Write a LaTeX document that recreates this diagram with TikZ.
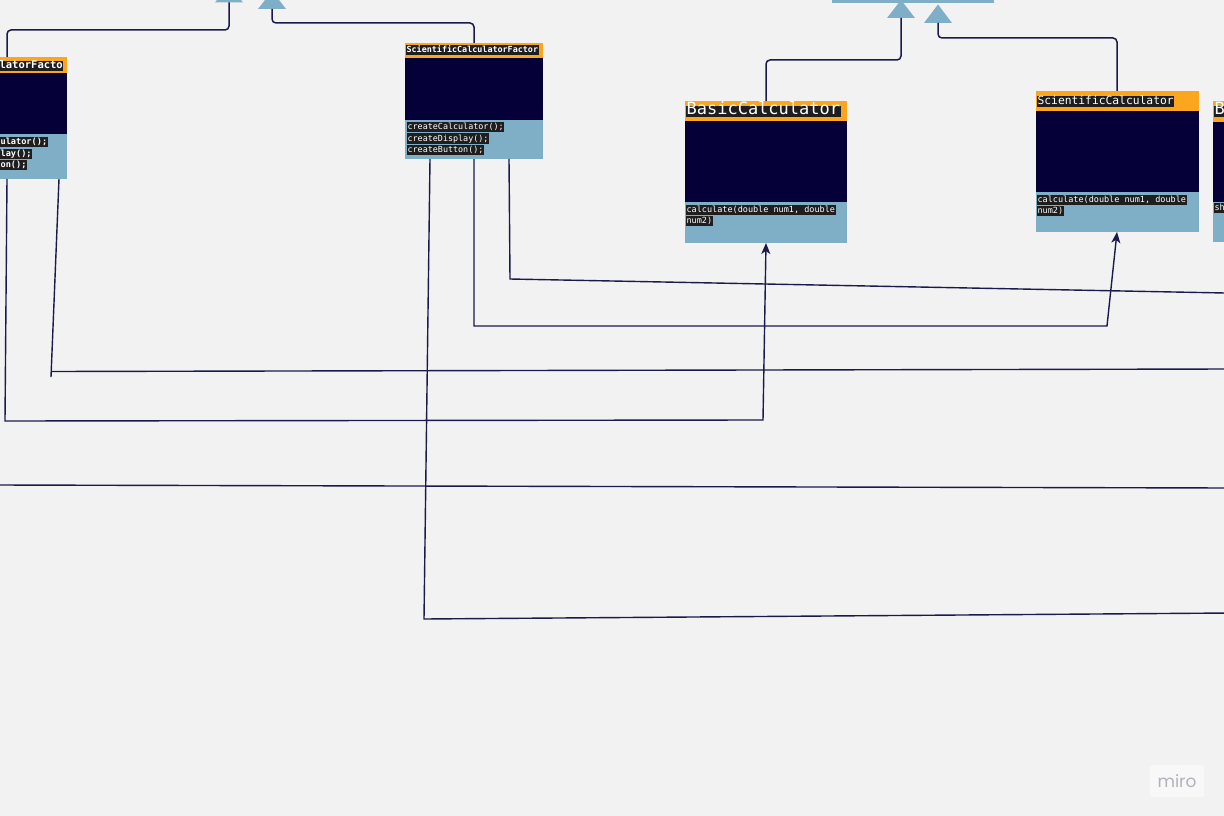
\documentclass[tikz,border=0pt]{standalone}
\usepackage{fontspec}
\newfontfamily\mono{DejaVu Sans Mono}
\newfontfamily\logofont{Poppins}
\usetikzlibrary{calc,arrows.meta}
\definecolor{bgC}{HTML}{F2F2F2}
\definecolor{orangeC}{HTML}{FCA51E}
\definecolor{navyC}{HTML}{050038}
\definecolor{blueC}{HTML}{7FAFC6}
\definecolor{labC}{HTML}{1E1E1E}
\definecolor{lineC}{HTML}{1A1A4C}
\definecolor{logoC}{HTML}{B2B2BC}
\tikzset{
  part/.style={rectangle, inner sep=0pt, outer sep=0pt, anchor=north west, draw=none},
  hdr/.style={part, fill=orangeC},
  bodyp/.style={part, fill=navyC},
  meth/.style={part, fill=blueC},
  lab/.style={fill=labC, text=white, inner xsep=0.6pt, inner ysep=0.3pt, outer sep=0pt, anchor=west, text height=0.76em, text depth=0.22em},
  conn/.style={draw=lineC, line width=1.4pt},
  upconn/.style={draw=lineC, line width=1.5pt, rounded corners=4pt},
  tip/.style={-{Stealth[length=11pt,width=9pt,inset=3pt]}},
  tri/.style={fill=blueC, draw=none},
}
\begin{document}
\begin{tikzpicture}[x=1pt,y=-1pt]
\useasboundingbox (0,0) rectangle (1224,816);
\fill[bgC] (0,0) rectangle (1224,816);
\clip (0,0) rectangle (1224,816);

% ---- inheritance targets at top ----
\fill[tri] (215,2.5) -- (243,2.5) -- (229,-15.5) -- cycle;
\fill[tri] (258,9) -- (286,9) -- (272,-9) -- cycle;
\node[part, fill=blueC, minimum width=162pt, minimum height=8pt, anchor=south west] (topbar) at (832,3) {};
\fill[tri] (887,18) -- (915,18) -- (901,0) -- cycle;
\fill[tri] (924,23) -- (952,23) -- (938,4.5) -- cycle;
\coordinate (t1) at (229,2.5);
\coordinate (t2) at (272,9);
\coordinate (t3) at (901,18);
\coordinate (t4) at (938,23);

% ---- left factory (cut off) ----
\node[hdr, minimum width=72pt, minimum height=16pt] (lfH) at (-5,57) {};
\node[bodyp, minimum width=72pt, minimum height=61pt] (lfB) at (-5,73) {};
\node[meth, minimum width=72pt, minimum height=45pt] (lfM) at (-5,134) {};
\node[lab, font=\mono\bfseries\fontsize{10.5}{12}\selectfont] (lfL) at (-1,66) {latorFacto};
\node[lab, font=\mono\bfseries\fontsize{8.6}{10}\selectfont] (lfm1) at (0,142) {ulator();};
\node[lab, font=\mono\bfseries\fontsize{8.6}{10}\selectfont] (lfm2) at (0,154) {lay();};
\node[lab, font=\mono\bfseries\fontsize{8.6}{10}\selectfont] (lfm3) at (0,165) {on();};

% ---- ScientificCalculatorFactory ----
\node[hdr, minimum width=138pt, minimum height=15pt] (sfH) at (405,43) {};
\node[bodyp, minimum width=138pt, minimum height=62pt] (sfB) at (405,58) {};
\node[meth, minimum width=138pt, minimum height=39pt] (sfM) at (405,120) {};
\node[lab, font=\mono\bfseries\fontsize{8.4}{10}\selectfont] (sfL) at (406,50) {ScientificCalculatorFactor};
\node[lab, font=\mono\fontsize{8.4}{10}\selectfont] (sfm1) at (407,127) {createCalculator();};
\node[lab, font=\mono\fontsize{8.4}{10}\selectfont] (sfm2) at (407,138.5) {createDisplay();};
\node[lab, font=\mono\fontsize{8.4}{10}\selectfont] (sfm3) at (407,150) {createButton();};

% ---- BasicCalculator ----
\node[hdr, minimum width=162pt, minimum height=20pt] (bcH) at (685,101) {};
\node[bodyp, minimum width=162pt, minimum height=81pt] (bcB) at (685,121) {};
\node[meth, minimum width=162pt, minimum height=41pt] (bcM) at (685,202) {};
\node[lab, font=\mono\fontsize{17}{19}\selectfont] (bcL) at (686,111.5) {BasicCalculator};
\node[lab, font=\mono\fontsize{8.5}{10}\selectfont] (bcm1) at (686,210) {calculate(double num1, double\hspace{0.6em}};
\node[lab, font=\mono\fontsize{8.5}{10}\selectfont] (bcm2) at (686,221) {num2)};

% ---- ScientificCalculator ----
\node[hdr, minimum width=163pt, minimum height=20pt] (scH) at (1036,91) {};
\node[bodyp, minimum width=163pt, minimum height=81pt] (scB) at (1036,111) {};
\node[meth, minimum width=163pt, minimum height=40pt] (scM) at (1036,192) {};
\node[lab, font=\mono\fontsize{11.3}{13}\selectfont] (scL) at (1037,101.5) {ScientificCalculator};
\node[lab, font=\mono\fontsize{8.5}{10}\selectfont] (scm1) at (1037,200) {calculate(double num1, double\hspace{0.6em}};
\node[lab, font=\mono\fontsize{8.5}{10}\selectfont] (scm2) at (1037,211) {num2)};

% ---- partial box at right edge ----
\node[hdr, minimum width=30pt, minimum height=21pt] (rpH) at (1213,101) {};
\node[bodyp, minimum width=30pt, minimum height=80pt] (rpB) at (1213,122) {};
\node[meth, minimum width=30pt, minimum height=40pt] (rpM) at (1213,202) {};
\node[lab, font=\mono\fontsize{17}{19}\selectfont, text width=20pt, align=left] (rpL) at (1214,111.5) {B};
\node[lab, font=\mono\fontsize{8.5}{10}\selectfont, text width=20pt, align=left] (rpm1) at (1214,208) {sh};

% ---- ports ----
\coordinate (lfTop) at ($(lfH.north west)+(12,0)$);
\coordinate (sfTop) at ($(sfH.north west)+(69,0)$);
\coordinate (bcTop) at (bcH.north);
\coordinate (scTop) at ($(scH.north west)+(81,0)$);
\coordinate (lfBot1) at ($(lfM.south west)+(12,0)$);
\coordinate (lfBot2) at ($(lfM.south west)+(64,0)$);
\coordinate (sfBot1) at ($(sfM.south west)+(25,0)$);
\coordinate (sfBot2) at ($(sfM.south west)+(69,0)$);
\coordinate (sfBot3) at ($(sfM.south west)+(104,0)$);
\coordinate (bcBot) at ($(bcM.south west)+(81,0)$);
\coordinate (scBot) at ($(scM.south west)+(81,0)$);
\coordinate (eB) at (1230,369);
\coordinate (eC) at (1230,293.1);
\coordinate (eE) at (1230,613);
\coordinate (eF1) at (-5,485);
\coordinate (eF2) at (1230,488);

% ---- generalisation connectors ----
\draw[upconn] (lfTop) -- ++(0,-27) -| (t1);
\draw[upconn] (sfTop) -- ++(0,-20) -| (t2);
\draw[upconn] (bcTop) -- ++(0,-41) -| (t3);
\draw[upconn] (scTop) -- ++(0,-53) -| (t4);

% ---- other connectors ----
\draw[conn, tip] (lfBot1) -- (5,421) -- (763,420) -- (bcBot);
\draw[conn] (lfBot2) -- (51,377);
\draw[conn] (51,371.5) -- (eB);
\draw[conn] (sfBot3) -- (510,279) -- (eC);
\draw[conn, tip] (sfBot2) -- (474,326) -- (1107,326) -- (scBot);
\draw[conn] (sfBot1) -- (424,619) -- (eE);
\draw[conn] (eF1) -- (eF2);

% ---- watermark ----
\node[fill=white!45!bgC, rounded corners=2pt, minimum width=54pt, minimum height=32pt, inner sep=0pt, text=logoC, font=\logofont\fontsize{17}{18}\selectfont] (miro) at (1177,781) {miro};
\end{tikzpicture}
\end{document}
